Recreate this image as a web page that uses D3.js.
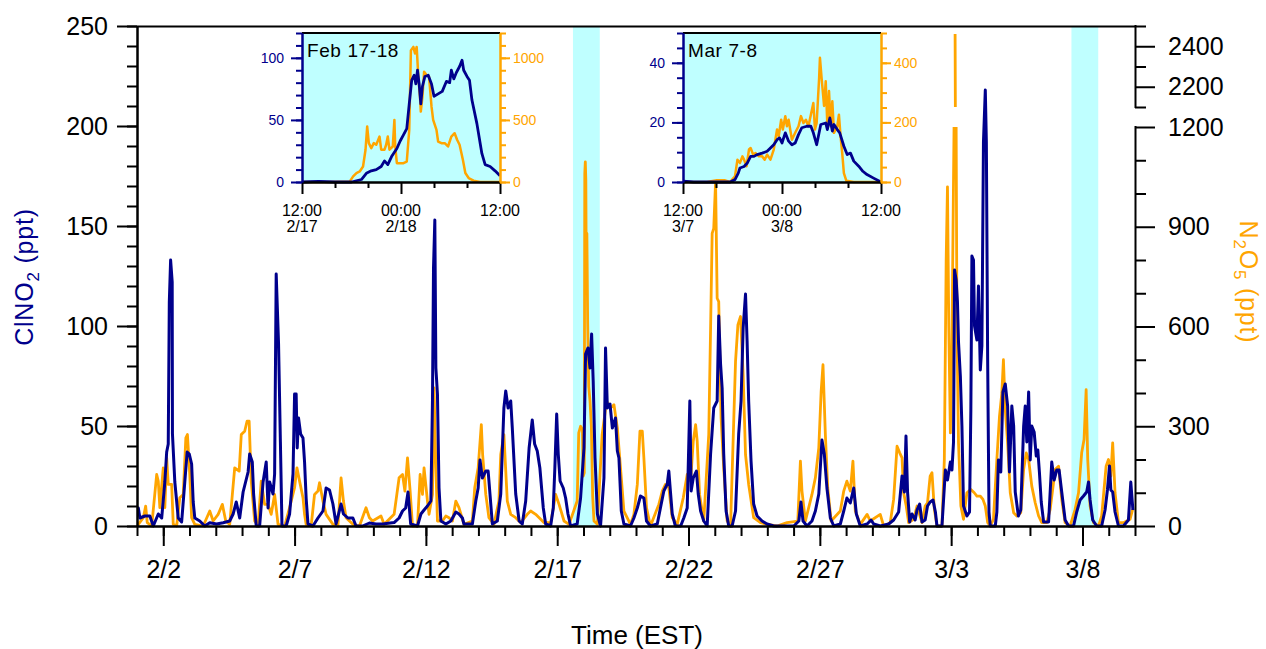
<!DOCTYPE html>
<html>
<head>
<meta charset="utf-8">
<script src="https://cdn.jsdelivr.net/npm/d3@7"></script>
<style>
  body { margin: 0; background: #fff; }
  svg { display: block; }
</style>
</head>
<body>
<svg id="chart" width="1266" height="649"></svg>
<script>

const NAVY = "#00008c";
const ORANGE = "#ffa500";
const CYAN = "#bfffff";
const FONT = '"Liberation Sans", Arial, Helvetica, sans-serif';

// main series, time in days since Feb 1 00:00 (EST)
const clno2Main = [[0,9],[0.05,9],[0.11,4],[0.3,5],[0.49,5],[0.62,0],[0.81,6],[0.94,4],[1.06,22],[1.13,37],[1.19,41],[1.23,112],[1.28,133],[1.34,122],[1.35,46],[1.44,22],[1.57,4],[1.7,2],[1.82,22],[1.91,37],[1.99,36],[2.08,31],[2.14,12],[2.2,4],[2.39,2.5],[2.58,0],[2.77,1.6],[3.03,1],[3.28,1.6],[3.53,2.5],[3.66,6],[3.78,12],[3.91,4],[4.04,17],[4.23,27],[4.29,36],[4.39,32],[4.44,16],[4.54,0],[4.67,0],[4.8,22],[4.92,32],[4.99,9],[5.05,22],[5.18,16],[5.24,26],[5.3,126],[5.39,91],[5.46,42],[5.52,0],[5.68,0],[5.81,6],[5.94,26],[6,66],[6.06,66],[6.1,39],[6.15,54],[6.23,46],[6.32,44],[6.38,32],[6.44,14],[6.51,1],[6.7,0],[6.89,4],[7.08,7.5],[7.2,19],[7.33,18],[7.46,11],[7.58,1],[7.77,11],[7.86,6],[8.03,4],[8.22,4],[8.34,0],[8.59,0],[8.85,1.5],[9.1,1],[9.35,1],
  [9.79,1.7],[9.98,4],[10.11,7.5],[10.23,9],[10.32,17],[10.42,1],[10.68,0],[10.81,6],[10.93,8],[11.06,10],[11.19,12.5],[11.25,62],[11.29,129],[11.34,153],[11.38,79],[11.44,66],[11.5,19],[11.57,2.5],[11.76,1],[11.95,2.5],[12.14,7],[12.26,6],[12.39,4],[12.45,1],[12.77,1],[12.9,12.5],[12.99,19],[13.06,33],[13.15,24],[13.28,27.5],[13.37,27.5],[13.44,16],[13.53,1],[13.72,2.5],[13.85,16],[13.97,59],[14.04,67.5],[14.13,59],[14.23,62.5],[14.29,49],[14.42,16],[14.55,2.5],[14.67,1],[14.8,12.5],[14.93,39],[15.05,53],[15.14,41],[15.24,37.5],[15.34,29],[15.47,9],[15.56,1],[15.75,0],[15.85,9],[15.91,29],[15.98,56],[16.04,36],[16.11,22.5],[16.23,19],[16.32,14],[16.41,6],[16.51,0],[16.76,1],[16.89,14],[17.02,39],[17.08,86],[17.17,89],[17.25,79],[17.31,96],[17.37,72.5],[17.44,34],[17.53,6],[17.65,0],[17.78,24],[17.84,89],[17.91,59],[18.01,61],[18.1,49],[18.22,54],[18.29,37.5],[18.35,34],[18.44,7.5],[18.54,1],[18.79,0],
  [18.92,4],[19.05,9],[19.17,15],[19.3,14],[19.4,2.5],[19.55,0],[19.81,1],[19.93,9],[20.06,17.5],[20.19,21],[20.25,27.5],[20.31,17.5],[20.38,6],[20.5,0],[20.7,0],[20.82,4],[20.95,9],[21.05,62.5],[21.1,17.5],[21.18,24],[21.3,27.5],[21.37,16],[21.46,7.5],[21.58,2.5],[21.71,0],[21.84,36],[21.96,59],[22.09,62.5],[22.15,105],[22.22,81],[22.28,69],[22.34,36],[22.43,7.5],[22.53,0],[22.66,0],[22.79,7.5],[22.91,46],[23,62.5],[23.08,99],[23.17,116],[23.23,92.5],[23.29,62.5],[23.38,32.5],[23.48,11],[23.61,5],[23.8,2.5],[23.99,1],[24.25,0],[25.01,0],[25.2,2.5],[25.28,12],[25.36,2.5],[25.51,0],[25.7,2.5],[25.83,7.5],[25.96,16],[26.08,43],[26.17,36],[26.27,19],[26.4,4],[26.53,0],[26.78,1],[26.91,7.5],[27.03,14],[27.16,11.5],[27.29,19],[27.39,6],[27.54,0],[27.8,1],[27.95,3],[28.05,1],[28.3,0],
  [28.62,1],[28.81,3],[29,7],[29.13,25],[29.22,17],[29.28,45],[29.34,17],[29.42,2],[29.51,6],[29.63,3],[29.7,8],[29.8,11],[29.89,2],[30.01,3],[30.1,10],[30.2,12],[30.31,13],[30.4,7],[30.46,0],[30.65,0],[30.78,28],[30.86,23],[30.97,32],[31.03,28],[31.09,42],[31.13,128],[31.19,123],[31.24,112],[31.28,92],[31.35,75],[31.41,50],[31.47,10],[31.6,5],[31.7,7],[31.75,58],[31.79,135],[31.85,133],[31.89,100],[31.98,93],[32.04,120],[32.11,78],[32.17,90],[32.23,192],[32.3,218],[32.34,192],[32.39,83],[32.44,7],[32.49,0],[32.68,0],[32.74,7],[32.8,33],[32.89,27],[32.97,67],[33.06,71],[33.15,60],[33.22,27],[33.31,60],[33.38,50],[33.44,17],[33.56,5],[33.65,8],[33.76,50],[33.82,60],[33.88,42],[33.95,67],[34.01,33],[34.07,50],[34.16,47],[34.24,35],[34.3,38],[34.36,27],[34.43,12],[34.52,2],[34.71,2],[34.83,32],[34.92,23],[35.02,28],[35.11,28],[35.21,17],[35.34,3],[35.47,0],[35.66,0],[35.78,7],[35.91,13],[36.04,15],[36.16,17],[36.23,22],[36.29,13],[36.39,3],[36.54,0],[36.73,0],[36.86,8],[36.95,18],[37.03,30],[37.08,18],[37.15,17],[37.24,7],[37.37,0],[37.56,0],[37.75,3],[37.84,22],[37.92,8]];

const n2o5Main = [[0,5],[0.05,5],[0.24,25],[0.33,60],[0.39,10],[0.56,0],[0.75,155],[0.81,135],[0.87,55],[1,175],[1.06,55],[1.13,205],[1.19,125],[1.32,125],[1.38,5],[1.51,0],[1.63,85],[1.76,95],[1.86,265],[1.92,275],[2.01,155],[2.08,25],[2.2,5],[2.52,0],[2.77,45],[2.9,15],[3.09,35],[3.25,65],[3.38,15],[3.53,5],[3.72,175],[3.89,165],[3.97,275],[4.1,285],[4.19,315],[4.27,315],[4.35,135],[4.48,15],[4.61,0],[4.73,135],[4.86,65],[4.99,65],[5.11,35],[5.24,95],[5.37,5],[5.62,0],[5.81,55],[6,115],[6.09,175],[6.19,135],[6.32,85],[6.38,35],[6.44,5],[6.63,0],[6.76,95],[6.89,105],[6.95,130],[7.08,75],[7.2,35],[7.46,5],[7.65,0],[7.77,145],[7.86,75],[7.96,25],[8.22,5],[8.47,0],[8.72,55],[8.85,25],[8.97,15],[9.29,30],
  [9.41,5],[9.79,35],[9.98,145],[10.11,155],[10.2,105],[10.3,205],[10.4,105],[10.49,0],[10.68,0],[10.78,155],[10.87,95],[10.93,175],[11.06,75],[11.12,35],[11.25,95],[11.31,415],[11.38,175],[11.44,15],[11.63,15],[11.76,30],[11.88,25],[12.01,15],[12.14,75],[12.26,55],[12.45,5],[12.77,15],[12.86,115],[12.99,175],[13.11,305],[13.16,215],[13.28,95],[13.4,25],[13.59,5],[13.78,75],[13.85,215],[13.97,275],[14.1,75],[14.23,35],[14.42,25],[14.61,10],[14.86,35],[14.99,45],[15.18,35],[15.37,20],[15.5,10],[15.75,10],[15.81,35],[15.94,95],[16.07,65],[16.26,15],[16.45,5],[16.76,75],[16.82,280],[16.89,300],[16.96,290],[16.99,150],[17.03,160],[17.05,1060],[17.07,1095],[17.09,1040],[17.11,700],[17.13,880],[17.16,610],[17.2,420],[17.25,375],[17.3,300],[17.35,90],[17.4,15],[17.53,5],[17.71,275],[17.88,375],[18.03,355],[18.16,365],[18.29,295],[18.41,175],[18.54,45],[18.79,5],
  [18.92,35],[19.05,125],[19.15,285],[19.24,285],[19.3,205],[19.4,55],[19.55,0],[19.87,65],[20,105],[20.12,125],[20.25,115],[20.38,25],[20.57,5],[20.8,85],[20.95,155],[21.08,135],[21.18,255],[21.27,305],[21.33,255],[21.42,95],[21.58,15],[21.77,275],[21.84,595],[21.9,880],[21.96,895],[22.03,1035],[22.09,685],[22.15,675],[22.24,325],[22.34,175],[22.47,15],[22.6,0],[22.79,495],[22.88,605],[22.98,630],[23.08,455],[23.17,215],[23.29,125],[23.48,25],[23.74,10],[23.99,5],[24.37,0],[24.75,10],[25.16,15],[25.26,195],[25.32,105],[25.45,15],[25.7,95],[25.83,145],[25.96,235],[26.05,405],[26.12,485],[26.21,275],[26.3,115],[26.43,15],[26.78,45],[26.91,105],[27.03,135],[27.16,105],[27.26,195],[27.35,45],[27.54,5],[27.8,35],[27.92,15],[28.3,35],
  [28.43,0],[28.68,10],[28.81,80],[28.94,240],[29.04,220],[29.13,205],[29.19,100],[29.29,60],[29.38,10],[29.57,20],[29.7,60],[29.89,10],[30.01,60],[30.1,70],[30.2,150],[30.27,160],[30.36,50],[30.46,0],[30.65,0],[30.74,200],[30.81,800],[30.86,1020],[30.91,600],[30.97,280],[31.03,550],[31.07,880],[31.11,1200],[31.13,1650],[31.15,2460],[31.16,2100],[31.17,1650],[31.19,1200],[31.22,600],[31.28,250],[31.37,60],[31.47,20],[31.6,100],[31.75,110],[31.88,100],[31.98,90],[32.11,90],[32.21,80],[32.3,60],[32.39,10],[32.49,0],[32.61,20],[32.74,200],[32.84,330],[32.93,400],[32.99,500],[33.06,350],[33.15,250],[33.25,100],[33.38,40],[33.5,30],[33.65,40],[33.76,170],[33.86,220],[33.95,200],[34.07,120],[34.2,70],[34.33,30],[34.45,10],[34.64,10],[34.77,50],[34.96,170],[35.09,180],[35.21,80],[35.34,10],[35.53,0],[35.72,50],[35.85,100],[35.97,220],[36.06,260],[36.14,410],[36.2,200],[36.29,60],[36.42,10],[36.61,0],[36.73,30],[36.9,180],[36.99,200],[37.08,150],[37.15,250],[37.24,100],[37.37,10],[37.56,10],[37.81,20],[37.91,50]];

const shadeBands = [[16.6, 17.62], [35.58, 36.6]];

const dayMinor = d3.range(0, 39);
const dayMajor = [1, 6, 11, 16, 21, 26, 31, 36];
const dayLabels = ["2/2", "2/7", "2/12", "2/17", "2/22", "2/27", "3/3", "3/8"];

const clMajor = [0, 50, 100, 150, 200, 250];
const clMinor = d3.range(0, 251, 10);
const n2Major = [0, 300, 600, 900, 1200, 2200, 2400];
const n2Minor = [100, 200, 400, 500, 700, 800, 1000, 1100, 2100, 2300, 2500];
const n2Break = [1200, 2100]; // right axis is cut between these

// insets, time in hours after 12:00 on the first day
const febClno2 = [[0,0],[2,0.5],[4,0],[6,0],[6.6,1],[7.2,2],[7.8,7],[8.4,9],[9,10],[9.6,12.5],[10,17],[10.4,14],[10.9,21],[11.5,27],[11.9,33],[12.3,38],[12.7,43],[13,63],[13.3,82],[13.6,86],[13.8,79],[14,90],[14.2,79],[14.4,63],[14.6,77],[14.9,85],[15.3,86],[15.7,79],[16,69],[16.5,71],[17,73],[17.5,81],[17.9,80],[18.1,90],[18.4,83],[18.7,88],[19.1,93],[19.4,98],[19.6,90],[20,85],[20.3,82],[20.6,66],[21.2,47],[21.8,23],[22.2,14],[22.8,12.5],[23.4,9],[24,5]];
const febN2o5 = [[0,0],[3,0],[5.8,5],[6.2,45],[6.6,72],[7,85],[7.4,125],[7.7,260],[7.9,447],[8.1,313],[8.4,273],[8.7,313],[9,300],[9.4,366],[9.6,260],[10,260],[10.2,300],[10.4,366],[10.6,260],[11,286],[11.2,500],[11.3,286],[11.5,152],[11.9,152],[12.3,152],[12.7,165],[13,420],[13.2,1060],[13.5,1088],[13.7,1035],[13.9,1088],[14.1,848],[14.3,687],[14.4,567],[14.6,687],[14.8,888],[15.1,861],[15.4,848],[15.7,607],[15.9,500],[16.3,420],[16.5,326],[16.9,313],[17.3,313],[17.7,286],[18.1,366],[18.5,393],[18.8,340],[19.1,300],[19.5,179],[19.8,72],[20.2,32],[20.8,11],[21.6,0],[24,0]];
const marClno2 = [[0,0.3],[1.3,0],[2.9,0],[4.9,0],[5.7,0],[6.3,0.8],[6.7,3],[6.9,4.7],[7.4,5.2],[7.8,6.4],[8.2,8.6],[8.6,8.6],[9,9.2],[9.6,9.7],[10.2,10.3],[10.6,11.4],[11,12.5],[11.4,14.2],[11.7,14.8],[12,13.1],[12.4,16.5],[12.8,13.7],[13.2,12.5],[13.6,13.1],[14,15.9],[14.4,18.2],[15,18.7],[15.5,18.7],[15.8,16.5],[16.2,12.5],[16.4,15.2],[16.7,19.3],[17.3,19.8],[17.5,17.6],[17.8,21.5],[18.1,17.1],[18.3,19.3],[18.7,17.6],[19,16.5],[19.5,12],[19.9,9.2],[20.3,9.7],[20.7,7],[21.3,5.3],[21.8,3.6],[22.3,2.5],[23.1,1.3],[24,0]];
const marN2o5 = [[0,0],[2.9,0],[4.1,5.6],[5.1,5.6],[5.7,0],[6.3,19],[6.6,75],[6.9,64],[7.2,86],[7.4,75],[7.7,53],[8,109],[8.2,114],[8.5,92],[8.8,97],[9.2,86],[9.6,86],[9.9,75],[10.2,92],[10.6,75],[11,109],[11.4,176],[11.6,154],[11.9,209],[12.1,176],[12.4,221],[12.6,187],[12.8,209],[13.2,142],[13.6,165],[14,187],[14.3,221],[14.6,198],[14.9,209],[15.2,187],[15.5,226],[15.8,265],[16,176],[16.2,198],[16.5,349],[16.6,417],[16.8,349],[17.1,255],[17.3,338],[17.5,187],[17.7,305],[17.9,187],[18.1,271],[18.3,165],[18.7,187],[18.9,226],[19.1,153],[19.3,97],[19.5,30],[19.8,4],[20.7,0],[24,0]];

const hourMajor = [0, 12, 24];
const hourMinor = [4, 8, 16, 20];
const febHourLabels = [["12:00", "2/17"], ["00:00", "2/18"], ["12:00", ""]];
const marHourLabels = [["12:00", "3/7"], ["00:00", "3/8"], ["12:00", ""]];

const febClMajor = [0, 50, 100], febClMinor = d3.range(0, 121, 10);
const febN2Major = [0, 500, 1000], febN2Minor = d3.range(0, 1201, 100);
const marClMajor = [0, 20, 40], marClMinor = d3.range(0, 51, 5);
const marN2Major = [0, 200, 400], marN2Minor = d3.range(0, 501, 50);


const svg = d3.select("#chart");
const fmt = d3.format("d");

const LEFT = 137, RIGHT = 1135, TOP = 26, BOTTOM = 526;

const x = d3.scaleLinear().domain([0, 38]).range([LEFT, RIGHT]);
const yCl = d3.scaleLinear().domain([0, 250]).range([BOTTOM, TOP]);
// broken right axis: 0-1200 below the cut, 2100-2500 above it
const yN2 = d3.scaleLinear().domain([0, 1200, 2100, 2500]).range([BOTTOM, 127, 107, TOP]);

function styleAxis(g, color, size, width) {
    g.attr("color", color).attr("font-family", FONT).attr("font-size", size);
    g.selectAll("line, path").attr("stroke-width", width);
}

// shaded periods (the two inset nights)
svg.append("g").selectAll("rect")
    .data(shadeBands)
    .join("rect")
    .attr("x", d => x(d[0]))
    .attr("width", d => x(d[1]) - x(d[0]))
    .attr("y", TOP)
    .attr("height", BOTTOM - TOP)
    .attr("fill", CYAN);

const lineN2 = d3.line()
    .defined(d => d[1] <= n2Break[0] || d[1] >= n2Break[1])
    .x(d => x(d[0])).y(d => yN2(d[1]));
const lineCl = d3.line().x(d => x(d[0])).y(d => yCl(d[1]));

svg.append("path").datum(n2o5Main)
    .attr("d", lineN2).attr("fill", "none")
    .attr("stroke", ORANGE).attr("stroke-width", 2.8).attr("stroke-linejoin", "round");
svg.append("path").datum(clno2Main)
    .attr("d", lineCl).attr("fill", "none")
    .attr("stroke", NAVY).attr("stroke-width", 3).attr("stroke-linejoin", "round");

// bottom axis
svg.append("g").attr("transform", `translate(0,${BOTTOM})`)
    .call(d3.axisBottom(x).tickValues(dayMinor).tickSize(10).tickSizeOuter(0).tickFormat(""))
    .call(g => styleAxis(g, "#000", 25, 2));
svg.append("g").attr("transform", `translate(0,${BOTTOM})`)
    .call(d3.axisBottom(x).tickValues(dayMajor).tickSize(20).tickSizeOuter(0).tickPadding(14)
        .tickFormat(d => dayLabels[dayMajor.indexOf(d)]))
    .call(g => styleAxis(g, "#000", 25, 2));

// left axis
svg.append("g").attr("transform", `translate(${LEFT},0)`)
    .call(d3.axisLeft(yCl).tickValues(clMinor).tickSize(10).tickSizeOuter(0).tickFormat(""))
    .call(g => styleAxis(g, "#000", 25, 2));
svg.append("g").attr("transform", `translate(${LEFT},0)`)
    .call(d3.axisLeft(yCl).tickValues(clMajor).tickSize(20).tickSizeOuter(0).tickPadding(9).tickFormat(fmt))
    .call(g => styleAxis(g, "#000", 25, 2));

// top frame
svg.append("line")
    .attr("x1", LEFT).attr("x2", RIGHT).attr("y1", TOP + 0.5).attr("y2", TOP + 0.5)
    .attr("stroke", "#000").attr("stroke-width", 2);

// right axis, drawn in two pieces around the cut
const rightMinor = svg.append("g").attr("transform", `translate(${RIGHT},0)`)
    .call(d3.axisRight(yN2).tickValues(n2Minor).tickSize(11).tickFormat(""))
    .call(g => styleAxis(g, "#000", 25, 2));
rightMinor.select(".domain").remove();
const rightMajor = svg.append("g").attr("transform", `translate(${RIGHT},0)`)
    .call(d3.axisRight(yN2).tickValues(n2Major).tickSize(20).tickPadding(13).tickFormat(fmt))
    .call(g => styleAxis(g, "#000", 25, 2));
rightMajor.select(".domain").remove();
svg.append("g").selectAll("line")
    .data([[0, n2Break[0]], [n2Break[1], 2500]])
    .join("line")
    .attr("x1", RIGHT + 0.5).attr("x2", RIGHT + 0.5)
    .attr("y1", d => yN2(d[0]) + 1).attr("y2", d => yN2(d[1]) - 1)
    .attr("stroke", "#000").attr("stroke-width", 2);

// axis titles
const clTitle = svg.append("text")
    .attr("transform", "translate(33,277) rotate(-90)")
    .attr("text-anchor", "middle")
    .attr("font-family", FONT).attr("font-size", 25).attr("letter-spacing", 0.8).attr("fill", NAVY);
clTitle.append("tspan").text("ClNO");
clTitle.append("tspan").attr("dy", 6).attr("font-size", 17).text("2");
clTitle.append("tspan").attr("dy", -6).text(" (ppt)");

const n2Title = svg.append("text")
    .attr("transform", "translate(1240,282) rotate(90)")
    .attr("text-anchor", "middle")
    .attr("font-family", FONT).attr("font-size", 25).attr("letter-spacing", 0.8).attr("fill", ORANGE);
n2Title.append("tspan").text("N");
n2Title.append("tspan").attr("dy", 6).attr("font-size", 17).text("2");
n2Title.append("tspan").attr("dy", -6).text("O");
n2Title.append("tspan").attr("dy", 6).attr("font-size", 17).text("5");
n2Title.append("tspan").attr("dy", -6).text(" (ppt)");

svg.append("text")
    .attr("x", 637).attr("y", 644)
    .attr("text-anchor", "middle")
    .attr("font-family", FONT).attr("font-size", 26)
    .text("Time (EST)");


// insets
const IN_TOP = 33, IN_BOT = 182;

function drawInset(cfg) {
    const g = svg.append("g");
    const ix = d3.scaleLinear().domain([0, 24]).range([cfg.left, cfg.right]);
    const iyCl = d3.scaleLinear().domain([0, cfg.clMax]).range([IN_BOT, IN_TOP]);
    const iyN2 = d3.scaleLinear().domain([0, cfg.n2Max]).range([IN_BOT, IN_TOP]);

    g.append("rect")
        .attr("x", cfg.left).attr("y", IN_TOP)
        .attr("width", cfg.right - cfg.left).attr("height", IN_BOT - IN_TOP)
        .attr("fill", CYAN);

    g.append("path").datum(cfg.n2)
        .attr("d", d3.line().x(d => ix(d[0])).y(d => iyN2(d[1])))
        .attr("fill", "none").attr("stroke", ORANGE).attr("stroke-width", 2.5)
        .attr("stroke-linejoin", "round");
    g.append("path").datum(cfg.cl)
        .attr("d", d3.line().x(d => ix(d[0])).y(d => iyCl(d[1])))
        .attr("fill", "none").attr("stroke", NAVY).attr("stroke-width", 2.8)
        .attr("stroke-linejoin", "round");

    g.append("line")
        .attr("x1", cfg.left).attr("x2", cfg.right).attr("y1", IN_TOP).attr("y2", IN_TOP)
        .attr("stroke", "#000").attr("stroke-width", 2);

    // time axis
    g.append("g").attr("transform", `translate(0,${IN_BOT})`)
        .call(d3.axisBottom(ix).tickValues(hourMinor).tickSize(6).tickSizeOuter(0).tickFormat(""))
        .call(a => styleAxis(a, "#000", 16, 2));
    g.append("g").attr("transform", `translate(0,${IN_BOT})`)
        .call(d3.axisBottom(ix).tickValues(hourMajor).tickSize(12).tickSizeOuter(0).tickFormat(""))
        .call(a => styleAxis(a, "#000", 16, 2));
    const lab = g.append("g").selectAll("text")
        .data(hourMajor)
        .join("text")
        .attr("x", d => ix(d))
        .attr("text-anchor", "middle")
        .attr("font-family", FONT).attr("font-size", 16);
    lab.append("tspan").attr("x", d => ix(d)).attr("y", 216).text((d, i) => cfg.hourLabels[i][0]);
    lab.append("tspan").attr("x", d => ix(d)).attr("y", 232).text((d, i) => cfg.hourLabels[i][1]);

    // ClNO2 axis
    g.append("g").attr("transform", `translate(${cfg.left},0)`)
        .call(d3.axisLeft(iyCl).tickValues(cfg.clMinor).tickSize(6).tickSizeOuter(0).tickFormat(""))
        .call(a => styleAxis(a, NAVY, 14, 2));
    g.append("g").attr("transform", `translate(${cfg.left},0)`)
        .call(d3.axisLeft(iyCl).tickValues(cfg.clMajor).tickSize(11).tickSizeOuter(0).tickPadding(7).tickFormat(fmt))
        .call(a => styleAxis(a, NAVY, 14, 2));

    // N2O5 axis
    g.append("g").attr("transform", `translate(${cfg.right},0)`)
        .call(d3.axisRight(iyN2).tickValues(cfg.n2Minor).tickSize(6).tickSizeOuter(0).tickFormat(""))
        .call(a => styleAxis(a, ORANGE, 14, 2));
    g.append("g").attr("transform", `translate(${cfg.right},0)`)
        .call(d3.axisRight(iyN2).tickValues(cfg.n2Major).tickSize(10).tickSizeOuter(0).tickPadding(3).tickFormat(fmt))
        .call(a => styleAxis(a, ORANGE, 14, 2));

    g.append("text")
        .attr("x", cfg.left + 5).attr("y", 57)
        .attr("font-family", FONT).attr("font-size", 19).attr("letter-spacing", 0.6)
        .text(cfg.title);
}

drawInset({
    left: 302, right: 500, title: "Feb 17-18",
    cl: febClno2, n2: febN2o5, clMax: 120, n2Max: 1200,
    clMajor: febClMajor, clMinor: febClMinor, n2Major: febN2Major, n2Minor: febN2Minor,
    hourLabels: febHourLabels
});
drawInset({
    left: 683, right: 881, title: "Mar 7-8",
    cl: marClno2, n2: marN2o5, clMax: 50, n2Max: 500,
    clMajor: marClMajor, clMinor: marClMinor, n2Major: marN2Major, n2Minor: marN2Minor,
    hourLabels: marHourLabels
});

</script>
</body>
</html>
